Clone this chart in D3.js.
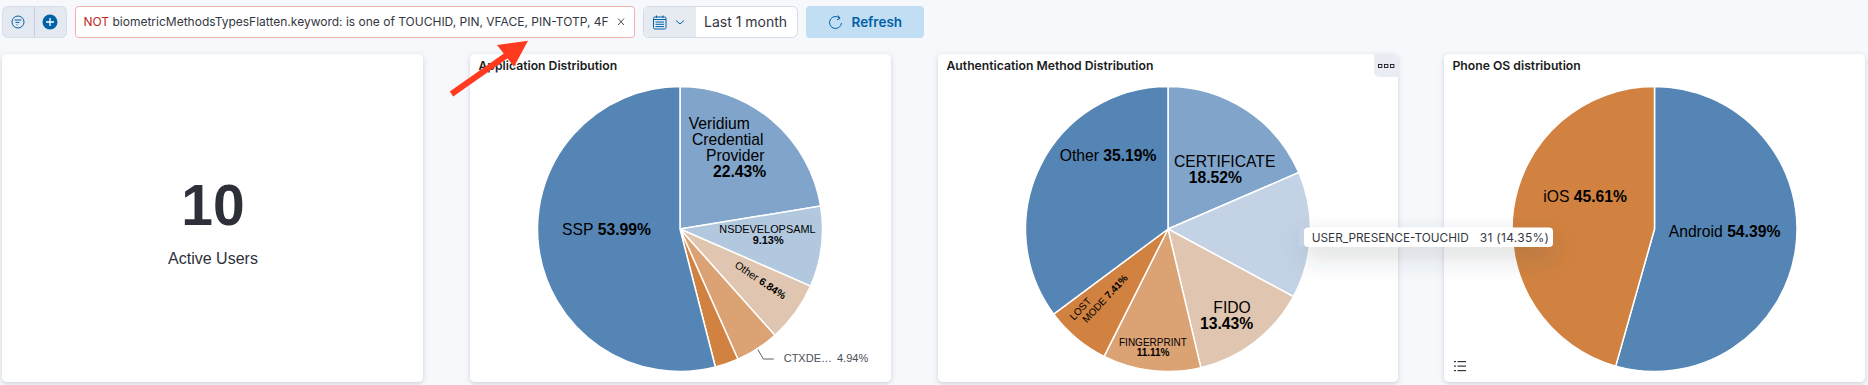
<!DOCTYPE html>
<html>
<head>
<meta charset="utf-8">
<script src="https://cdn.jsdelivr.net/npm/d3@7"></script>
<style>
  html, body { margin: 0; padding: 0; background: #f6f8fc; overflow: hidden; }
  svg { display: block; }
  text { font-family: "Liberation Sans", Arial, sans-serif; }
  .ui { font-family: Inter, "Noto Sans", sans-serif; }
</style>
</head>
<body>
<div id="graph-goes-here"></div>
<script>
// Application Distribution
const appNames = ["Veridium Credential Provider", "NSDEVELOPSAML", "Other", "CTXDE…", "", "SSP"];
const appValues = [22.43, 9.13, 6.84, 4.94, 2.67, 53.99];
// Authentication Method Distribution
const authNames = ["CERTIFICATE", "USER_PRESENCE-TOUCHID", "FIDO", "FINGERPRINT", "LOST MODE", "Other"];
const authValues = [18.52, 14.35, 13.43, 11.11, 7.41, 35.19];
// Phone OS distribution
const osNames = ["Android", "iOS"];
const osValues = [54.39, 45.61];

const activeUsers = 10;
const activeUsersLabel = "Active Users";
const filterNot = "NOT";
const filterText = "biometricMethodsTypesFlatten.keyword: is one of TOUCHID, PIN, VFACE, PIN-TOTP, 4F";
const tooltipCount = 31;

const width = 1868, height = 385;
const radius = 142.5;

const blue = "#5585b5", orange = "#d18240";
const appColors = ["#81a5ca", "#b2c8df", "#e0c6b0", "#dba274", orange, blue];
const authColors = ["#81a5ca", "#c3d3e5", "#e0c6b0", "#dba274", orange, blue];
const osColors = [blue, orange];

const svg = d3.select("#graph-goes-here").append("svg")
    .attr("width", width)
    .attr("height", height);

const defs = svg.append("defs");
defs.append("filter").attr("id", "card-shadow")
    .attr("x", "-5%").attr("y", "-5%").attr("width", "110%").attr("height", "110%")
    .append("feDropShadow")
    .attr("dx", 0).attr("dy", 1.5).attr("stdDeviation", 2.5)
    .attr("flood-color", "#5a6478").attr("flood-opacity", 0.28);
defs.append("filter").attr("id", "tip-shadow")
    .attr("x", "-10%").attr("y", "-50%").attr("width", "120%").attr("height", "400%")
    .append("feDropShadow")
    .attr("dx", 0).attr("dy", 10).attr("stdDeviation", 12)
    .attr("flood-color", "#3a4050").attr("flood-opacity", 0.2);

svg.append("rect").attr("width", width).attr("height", height).attr("fill", "#f6f8fc");

// Cards
const cards = [
    { x: 2, w: 421 },
    { x: 470, w: 421, title: "Application Distribution" },
    { x: 938, w: 460, title: "Authentication Method Distribution" },
    { x: 1444, w: 421, title: "Phone OS distribution" }
];
cards.forEach(c => {
    svg.append("rect")
        .attr("x", c.x).attr("y", 54).attr("width", c.w).attr("height", 328)
        .attr("rx", 5).attr("fill", "#fff").attr("filter", "url(#card-shadow)");
    if (c.title) svg.append("text").attr("class", "ui")
        .attr("x", c.x + 8.5).attr("y", 70)
        .attr("font-size", 12.2).attr("font-weight", 600).attr("fill", "#1a1c21")
        .text(c.title);
});

// Metric card
svg.append("text")
    .attr("x", 213).attr("y", 225).attr("text-anchor", "middle")
    .attr("font-size", 57).attr("font-weight", 700).attr("fill", "#2d3039")
    .text(activeUsers);
svg.append("text")
    .attr("x", 213).attr("y", 264).attr("text-anchor", "middle")
    .attr("font-size", 16).attr("fill", "#2d3039")
    .text(activeUsersLabel);

/**
 * Draws one pie with its in-slice labels.
 * A label is a list of rows: [how many words of the label, dx, dy from the pie centre].
 */
const drawPie = function (cx, names, values, colors, labels) {
    const pie = d3.pie().sort(null).value(d => d.value)
        .startAngle(0).endAngle(2 * Math.PI);
    const arc = d3.arc().innerRadius(0).outerRadius(radius);
    const color = d3.scaleOrdinal().domain(names.map((n, i) => i)).range(colors);
    const slices = pie(values.map((value, i) => ({ i, value, name: names[i] })));

    const g = svg.append("g").attr("transform", `translate(${cx},229)`);
    g.selectAll("path").data(slices).join("path")
        .attr("d", arc)
        .attr("fill", d => color(d.data.i))
        .attr("stroke", "#fff")
        .attr("stroke-width", 1.5)
        .attr("stroke-linejoin", "round");

    labels.forEach(l => {
        const d = slices[l.slice];
        const words = d.data.name.split(" ").concat([d.data.value.toFixed(2) + "%"]);
        const last = words.length - 1;
        let used = 0;
        l.rows.forEach(([count, dx, dy]) => {
            const t = g.append("text")
                .attr("transform", `translate(${dx},${dy})` + (l.rotate ? `rotate(${l.rotate})` : ""))
                .attr("font-size", l.size)
                .attr("fill", "#000");
            words.slice(used, used + count).forEach((w, i) => {
                const pos = used + i;
                t.append("tspan")
                    .attr("font-weight", pos == last ? 700 : 400)
                    .text((i ? " " : "") + w);
            });
            used += count;
        });
    });
    return { g, slices };
};

const appPie = drawPie(680, appNames, appValues, appColors, [
    { slice: 0, size: 15.7, rows: [[1, 8.7, -100], [1, 12, -84], [1, 26, -68], [1, 33, -52]] },
    { slice: 1, size: 10.9, rows: [[1, 39.3, 4], [1, 72.7, 15]] },
    { slice: 2, size: 10.5, rotate: 34, rows: [[2, 54, 37.7]] },
    { slice: 5, size: 15.7, rows: [[2, -118, 6]] }
]);

drawPie(1168, authNames, authValues, authColors, [
    { slice: 0, size: 15.7, rows: [[1, 6, -62.3], [1, 20.7, -46.3]] },
    { slice: 2, size: 15.7, rows: [[1, 45.3, 83.7], [1, 32, 99.7]] },
    { slice: 3, size: 10, rows: [[1, -49, 116.7], [1, -31.3, 126.7]] },
    { slice: 4, size: 10, rotate: -47, rows: [[1, -94, 91.7], [2, -81.3, 94.3]] },
    { slice: 5, size: 15.7, rows: [[2, -108.3, -68.3]] }
]);

drawPie(1654.5, osNames, osValues, osColors, [
    { slice: 0, size: 15.7, rows: [[2, 14.2, 7.7]] },
    { slice: 1, size: 15.7, rows: [[2, -111.2, -27.3]] }
]);

// Linked label of the CTXDE slice
{
    const d = appPie.slices[3];
    const mid = (d.startAngle + d.endAngle) / 2;
    const x0 = Math.sin(mid) * (radius + 1), y0 = -Math.cos(mid) * (radius + 1);
    appPie.g.append("path")
        .attr("d", d3.line()([[x0, y0], [x0 + 5.5, y0 + 9.5], [x0 + 16, y0 + 9.5]]))
        .attr("fill", "none").attr("stroke", "#343741").attr("stroke-width", 0.8);
    appPie.g.append("text")
        .attr("x", 103.7).attr("y", 132.7)
        .attr("font-size", 11).attr("fill", "#4a4d55")
        .text(d.data.name);
    appPie.g.append("text")
        .attr("x", 157).attr("y", 132.7)
        .attr("font-size", 11).attr("fill", "#4a4d55")
        .text(d.data.value.toFixed(2) + "%");
}

// Tooltip over the authentication pie
{
    const tip = svg.append("g");
    tip.append("rect").attr("x", 1304).attr("y", 227.5).attr("width", 249).attr("height", 19.5)
        .attr("rx", 4).attr("fill", "#fff").attr("filter", "url(#tip-shadow)");
    tip.append("path")
        .attr("d", "M1304,227.5 h-1 a4,4 0 0 0 -4,4 v11.5 a4,4 0 0 0 4,4 h1 z")
        .attr("fill", authColors[1]);
    tip.append("text").attr("class", "ui").attr("x", 1311.7).attr("y", 241.5)
        .attr("font-size", 11.8).attr("fill", "#343741")
        .text(authNames[1]);
    tip.append("text").attr("class", "ui").attr("x", 1549.3).attr("y", 241.5)
        .attr("text-anchor", "end").attr("font-size", 12).attr("letter-spacing", 0.3).attr("fill", "#343741")
        .text(`${tooltipCount} (${authValues[1].toFixed(2)}%)`);
}

// Panel options button
svg.append("path")
    .attr("d", "M1374,54 h19 a5,5 0 0 1 5,5 v18 h-19 a5,5 0 0 1 -5,-5 z")
    .attr("fill", "#e9edf3");
[1378.5, 1384.5, 1390.5].forEach(x => {
    svg.append("rect").attr("x", x).attr("y", 64.5).attr("width", 3.4).attr("height", 3)
        .attr("fill", "none").attr("stroke", "#1a1c21").attr("stroke-width", 0.9);
});

// Legend toggle icon
[361.5, 366, 370.5].forEach(y => {
    svg.append("rect").attr("x", 1454).attr("y", y - 0.5).attr("width", 2).attr("height", 1.2).attr("fill", "#343741");
    svg.append("rect").attr("x", 1457.5).attr("y", y - 0.5).attr("width", 8.5).attr("height", 1.2).attr("fill", "#343741");
});

// Top bar
const bar = svg.append("g");
bar.append("rect").attr("x", 2.5).attr("y", 6.5).attr("width", 64).attr("height", 31)
    .attr("rx", 5).attr("fill", "#e3e8f1").attr("stroke", "#d8deea");
bar.append("line").attr("x1", 34.5).attr("x2", 34.5).attr("y1", 6.5).attr("y2", 37.5).attr("stroke", "#c9d1e0");
bar.append("circle").attr("cx", 18).attr("cy", 22).attr("r", 6).attr("fill", "none")
    .attr("stroke", "#0061a6").attr("stroke-width", 1);
[[14.5, 21.5], [15.5, 19.5], [16.5, 17.5]].forEach(([x1, x2], i) => {
    bar.append("line").attr("x1", x1).attr("x2", x2)
        .attr("y1", 20 + i * 2.4).attr("y2", 20 + i * 2.4)
        .attr("stroke", "#0061a6").attr("stroke-width", 1);
});
bar.append("circle").attr("cx", 50).attr("cy", 22).attr("r", 7.5).attr("fill", "#0061a6");
bar.append("path").attr("d", "M46,22 h8 M50,18 v8").attr("stroke", "#fff").attr("stroke-width", 1.3);

bar.append("rect").attr("x", 75.5).attr("y", 6.5).attr("width", 559).attr("height", 31)
    .attr("rx", 3).attr("fill", "#fff").attr("stroke", "#eeb0ac");
const filterLabel = bar.append("text").attr("class", "ui")
    .attr("x", 83.5).attr("y", 26).attr("font-size", 12).attr("fill", "#343741");
filterLabel.append("tspan").attr("fill", "#bd271e").text(filterNot);
filterLabel.append("tspan").text(" " + filterText);
bar.append("path").attr("d", "M618,18.5 l6,6.5 M624,18.5 l-6,6.5")
    .attr("stroke", "#343741").attr("stroke-width", 0.9);

bar.append("rect").attr("x", 643.5).attr("y", 6.5).attr("width", 154).attr("height", 31)
    .attr("rx", 5).attr("fill", "#fff").attr("stroke", "#d3dae6");
bar.append("path").attr("d", "M696,7 h-47 a5,5 0 0 0 -5,5 v20 a5,5 0 0 0 5,5 h47 z").attr("fill", "#e6ebf2");
bar.append("rect").attr("x", 653.5).attr("y", 17).attr("width", 12.5).attr("height", 12)
    .attr("rx", 1.5).attr("fill", "none").attr("stroke", "#0061a6").attr("stroke-width", 1);
bar.append("path").attr("d", "M653.5,19.5 h12.5 M656.5,15.5 v2.5 M663,15.5 v2.5 M655.5,22 h8.5 M655.5,24.3 h8.5 M655.5,26.6 h8.5")
    .attr("stroke", "#0061a6").attr("stroke-width", 1).attr("fill", "none");
bar.append("path").attr("d", "M676,20.5 l4,3.5 l4,-3.5").attr("stroke", "#0061a6").attr("stroke-width", 1).attr("fill", "none");
bar.append("text").attr("class", "ui").attr("x", 704).attr("y", 27)
    .attr("font-size", 14).attr("fill", "#343741").text("Last 1 month");

bar.append("rect").attr("x", 806).attr("y", 6).attr("width", 118).attr("height", 32)
    .attr("rx", 4).attr("fill", "#c2def2");
bar.append("path").attr("d", "M840,18.5 A6,6 0 1 0 841.5,23")
    .attr("fill", "none").attr("stroke", "#0061a6").attr("stroke-width", 1);
bar.append("path").attr("d", "M838,15.5 l2,3 l-3,1.2")
    .attr("fill", "none").attr("stroke", "#0061a6").attr("stroke-width", 1);
bar.append("text").attr("class", "ui").attr("x", 851.5).attr("y", 27)
    .attr("font-size", 13.5).attr("font-weight", 600).attr("fill", "#0061a6").text("Refresh");

// Red annotation arrow
svg.append("line").attr("x1", 451.5).attr("y1", 94).attr("x2", 507).attr("y2", 55)
    .attr("stroke", "#ff3a1f").attr("stroke-width", 6);
svg.append("path").attr("d", "M528,40.7 L497,45 L514,66.7 Z").attr("fill", "#ff3a1f");
</script>
</body>
</html>
